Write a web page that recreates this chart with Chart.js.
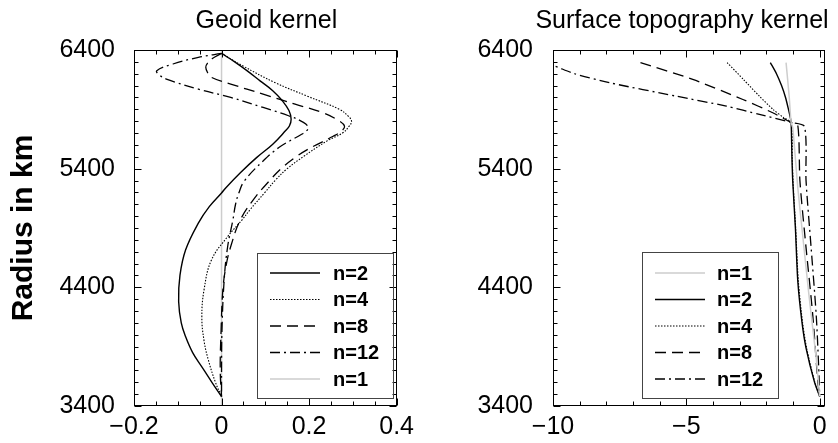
<!DOCTYPE html>
<html>
<head>
<meta charset="utf-8">
<script src="https://cdn.jsdelivr.net/npm/chart.js@4.4.1/dist/chart.umd.min.js"></script>
<style>
    html, body { margin: 0; padding: 0; background: #fff; }
    #wrap { position: relative; width: 838px; height: 443px; }
    #geoidChart { position: absolute; left: 0; top: 0; }
    #topoChart { position: absolute; left: 420px; top: 0; }
</style>
</head>
<body>
<div id="wrap">
    <canvas id="geoidChart" width="420" height="443"></canvas>
    <canvas id="topoChart" width="418" height="443"></canvas>
</div>
<script>
// radius ticks shared by both panels
const radiusTicks = [3400, 4400, 5400, 6400];
const geoidXTicks = [-0.2, 0, 0.2, 0.4];
const topoXTicks = [-10, -5, 0];

// Geoid kernel (left panel): radius in km, kernel value
const geoidR2 = [6371, 6300, 6226, 6140, 6057, 5972, 5890, 5817, 5760, 5719, 5606, 5493, 5366, 5240, 5195, 5080, 4941, 4716, 4500, 4280, 4100, 3983, 3850, 3730, 3600, 3480];
const geoidK2 = [0, 0.030, 0.058, 0.088, 0.117, 0.139, 0.154, 0.159, 0.155, 0.146, 0.117, 0.080, 0.043, 0.010, 0, -0.028, -0.053, -0.082, -0.095, -0.098, -0.092, -0.082, -0.066, -0.045, -0.022, 0];

const geoidR4 = [6371, 6265, 6124, 6011, 5899, 5840, 5800, 5760, 5702, 5631, 5504, 5400, 5307, 5195, 5054, 4969, 4828, 4631, 4378, 4150, 3950, 3786, 3600, 3480];
const geoidK4 = [0, 0.049, 0.123, 0.196, 0.270, 0.290, 0.297, 0.292, 0.277, 0.240, 0.188, 0.150, 0.124, 0.098, 0.065, 0.047, 0.014, -0.023, -0.040, -0.045, -0.040, -0.030, -0.014, 0];

const geoidR8 = [6371, 6330, 6290, 6254, 6210, 6169, 6113, 6028, 5944, 5870, 5800, 5758, 5720, 5673, 5561, 5491, 5400, 5296, 5150, 4969, 4744, 4575, 4378, 4040, 3700, 3480];
const geoidK8 = [0, -0.020, -0.032, -0.036, -0.032, -0.023, 0.021, 0.095, 0.168, 0.232, 0.270, 0.281, 0.275, 0.255, 0.196, 0.167, 0.136, 0.109, 0.075, 0.043, 0.021, 0.010, 0.003, -0.001, -0.003, 0];

const geoidR12 = [6371, 6338, 6282, 6226, 6190, 6155, 6070, 6000, 5916, 5846, 5790, 5747, 5710, 5690, 5578, 5465, 5296, 5200, 5100, 4969, 4744, 4462, 4040, 3700, 3480];
const geoidK12 = [0, -0.053, -0.111, -0.148, -0.142, -0.126, -0.053, 0.021, 0.095, 0.153, 0.187, 0.198, 0.192, 0.183, 0.131, 0.095, 0.052, 0.040, 0.032, 0.026, 0.014, 0.006, 0.001, 0, 0];

const geoidR1 = [6400, 3400];
const geoidK1 = [0, 0];

// Surface topography kernel (right panel)
const topoR1 = [6294, 6000, 5789, 5747, 5240, 4845, 4310, 3803, 3480];
const topoK1 = [-1.26, -1.14, -1.07, -1.01, -0.82, -0.64, -0.39, -0.13, 0];

const topoR2 = [6294, 6200, 6100, 6000, 5900, 5830, 5789, 5500, 5296, 4900, 4451, 4100, 3888, 3606, 3480];
const topoK2 = [-1.85, -1.62, -1.43, -1.28, -1.17, -1.10, -1.07, -1.04, -1.01, -0.91, -0.82, -0.66, -0.51, -0.20, 0];

const topoR4 = [6294, 6150, 6011, 5900, 5830, 5789, 5500, 5296, 4900, 4451, 4100, 3888, 3606, 3480];
const topoK4 = [-3.47, -2.85, -2.26, -1.75, -1.35, -1.07, -1.03, -1.00, -0.90, -0.80, -0.64, -0.49, -0.19, 0];

const topoR8 = [6294, 6152, 5983, 5871, 5789, 5765, 5296, 4733, 4169, 3606, 3480];
const topoK8 = [-6.72, -4.76, -2.88, -1.76, -1.07, -0.82, -0.74, -0.51, -0.26, -0.07, 0];

const topoR12 = [6294, 6271, 6200, 6124, 6011, 5927, 5857, 5789, 5755, 5296, 4733, 4169, 3746, 3480];
const topoK12 = [-10.4, -10, -9.2, -7.88, -5.38, -3.5, -2.26, -1.07, -0.57, -0.51, -0.32, -0.13, -0.04, 0];

const lineStyles = {
    n1: { borderColor: "#cdcdcd", borderWidth: 1.5, borderDash: [] },
    n2: { borderColor: "#000", borderWidth: 1.4, borderDash: [] },
    n4: { borderColor: "#000", borderWidth: 1.1, borderDash: [1.5, 1.5] },
    n8: { borderColor: "#000", borderWidth: 1.3, borderDash: [11, 6] },
    n12: { borderColor: "#000", borderWidth: 1.3, borderDash: [10, 4, 2, 4] }
};

Chart.defaults.font.family = '"Liberation Sans", Arial, sans-serif';
Chart.defaults.color = "#000";

function toPoints(rs, ks) {
    return rs.map((r, i) => ({ x: ks[i], y: r }));
}

function makeDataset(label, key, rs, ks, tension) {
    return Object.assign({
        label: label,
        data: toPoints(rs, ks),
        showLine: true,
        fill: false,
        pointRadius: 0,
        tension: tension
    }, lineStyles[key]);
}

function signed(v) {
    return v < 0 ? "\u2212" + Math.abs(v) : String(v);
}

// panel title, centred over the plot box (may overhang it)
const panelTitle = {
    id: "panelTitle",
    afterDraw(chart, args, opts) {
        const { ctx, chartArea: a } = chart;
        ctx.save();
        ctx.font = '25px "Liberation Sans", Arial, sans-serif';
        ctx.fillStyle = "#000";
        ctx.textAlign = "center";
        ctx.textBaseline = "alphabetic";
        ctx.fillText(opts.text, (a.left + a.right) / 2 + opts.shift, opts.baseline);
        ctx.restore();
    }
};

// box with inward ticks on all four sides
const framePlugin = {
    id: "frame",
    afterDatasetsDraw(chart, args, opts) {
        const { ctx, chartArea: a, scales: { x, y } } = chart;
        ctx.save();
        ctx.strokeStyle = "#000";
        ctx.lineWidth = 1;
        ctx.setLineDash([]);
        const L = Math.round(a.left) + 0.5, R = Math.round(a.right) - 0.5;
        const T = Math.round(a.top) + 0.5, B = Math.round(a.bottom) - 0.5;
        ctx.strokeRect(L, T, R - L, B - T);
        ctx.beginPath();
        const nx = Math.round((x.max - x.min) / opts.xMinor);
        for (let i = 0; i <= nx; i++) {
            const v = x.min + i * opts.xMinor;
            const major = Math.abs(v / opts.xMajor - Math.round(v / opts.xMajor)) < 1e-6;
            const len = major ? 7 : 4;
            const px = Math.round(x.getPixelForValue(v)) + 0.5;
            ctx.moveTo(px, B); ctx.lineTo(px, B - len);
            ctx.moveTo(px, T); ctx.lineTo(px, T + len);
        }
        const ny = Math.round((y.max - y.min) / opts.yMinor);
        for (let i = 0; i <= ny; i++) {
            const v = y.min + i * opts.yMinor;
            const major = (v - y.min) % opts.yMajor === 0;
            const len = major ? 7 : 4;
            const py = Math.round(y.getPixelForValue(v)) + 0.5;
            ctx.moveTo(L, py); ctx.lineTo(L + len, py);
            ctx.moveTo(R, py); ctx.lineTo(R - len, py);
        }
        ctx.stroke();
        ctx.restore();
    }
};

// legend drawn as a framed box inside the plot
const boxLegend = {
    id: "boxLegend",
    afterDraw(chart, args, opts) {
        const { ctx } = chart;
        ctx.save();
        ctx.strokeStyle = "#444";
        ctx.lineWidth = 1;
        ctx.setLineDash([]);
        ctx.strokeRect(opts.x + 0.5, opts.y + 0.5, opts.width, opts.height);
        ctx.font = 'bold 20px "Liberation Sans", Arial, sans-serif';
        ctx.textBaseline = "middle";
        ctx.textAlign = "left";
        chart.data.datasets.forEach((ds, i) => {
            const rowY = opts.y + opts.firstRow + i * opts.rowGap;
            ctx.strokeStyle = ds.borderColor;
            ctx.lineWidth = ds.borderWidth;
            ctx.setLineDash(ds.borderDash);
            ctx.beginPath();
            ctx.moveTo(opts.x + opts.lineStart, rowY);
            ctx.lineTo(opts.x + opts.lineStart + opts.lineLength, rowY);
            ctx.stroke();
            ctx.fillStyle = "#000";
            ctx.fillText(ds.label, opts.x + opts.textStart, rowY + 1);
        });
        ctx.restore();
    }
};

function makeOptions(cfg) {
    return {
        responsive: false,
        animation: false,
        layout: { padding: { left: 0, right: cfg.padRight, top: 50, bottom: 0 }, autoPadding: false },
        plugins: {
            legend: { display: false },
            tooltip: { enabled: false },
            title: { display: false },
            panelTitle: cfg.title,
            frame: cfg.frame,
            boxLegend: cfg.legend
        },
        scales: {
            x: {
                type: "linear",
                min: cfg.xMin,
                max: cfg.xMax,
                grid: { display: false, drawTicks: false },
                border: { display: false },
                afterBuildTicks: s => { s.ticks = cfg.xTicks.map(v => ({ value: v })); },
                afterFit: s => { s.height = 37; },
                ticks: {
                    font: { size: 25 },
                    color: "#000",
                    padding: 6,
                    maxRotation: 0,
                    autoSkip: false,
                    callback: v => signed(v)
                }
            },
            y: {
                type: "linear",
                min: 3400,
                max: 6400,
                grid: { display: false, drawTicks: false },
                border: { display: false },
                afterBuildTicks: s => { s.ticks = radiusTicks.map(v => ({ value: v })); },
                afterFit: s => { s.width = cfg.yWidth; },
                title: {
                    display: cfg.yTitle !== "",
                    text: cfg.yTitle,
                    font: { size: 30, weight: "bold" },
                    color: "#000",
                    padding: { top: 6, bottom: 0 }
                },
                ticks: {
                    font: { size: 25 },
                    color: "#000",
                    padding: cfg.yPad,
                    autoSkip: false,
                    callback: v => String(v)
                }
            }
        }
    };
}

new Chart(document.getElementById("geoidChart"), {
    type: "scatter",
    data: {
        datasets: [
            makeDataset("n=2", "n2", geoidR2, geoidK2, 0.4),
            makeDataset("n=4", "n4", geoidR4, geoidK4, 0.4),
            makeDataset("n=8", "n8", geoidR8, geoidK8, 0.4),
            makeDataset("n=12", "n12", geoidR12, geoidK12, 0.4),
            makeDataset("n=1", "n1", geoidR1, geoidK1, 0)
        ]
    },
    options: makeOptions({
        title: { text: "Geoid kernel", shift: 1, baseline: 28 },
        padRight: 14,
        xMin: -0.2,
        xMax: 0.4,
        xTicks: geoidXTicks,
        yWidth: 134,
        yPad: 19,
        yTitle: "Radius in km",
        frame: { xMinor: 0.05, xMajor: 0.2, yMinor: 100, yMajor: 1000 },
        legend: { x: 257, y: 253, width: 136, height: 145, firstRow: 20, rowGap: 26.5, lineStart: 13, lineLength: 50, textStart: 76 }
    }),
    plugins: [framePlugin, boxLegend, panelTitle]
});

new Chart(document.getElementById("topoChart"), {
    type: "scatter",
    data: {
        datasets: [
            makeDataset("n=1", "n1", topoR1, topoK1, 0.25),
            makeDataset("n=2", "n2", topoR2, topoK2, 0.25),
            makeDataset("n=4", "n4", topoR4, topoK4, 0.25),
            makeDataset("n=8", "n8", topoR8, topoK8, 0.25),
            makeDataset("n=12", "n12", topoR12, topoK12, 0.25)
        ]
    },
    options: makeOptions({
        title: { text: "Surface topography kernel", shift: -7, baseline: 28 },
        padRight: 13,
        xMin: -10,
        xMax: 0.2,
        xTicks: topoXTicks,
        yWidth: 133,
        yPad: 20,
        yTitle: "",
        frame: { xMinor: 1, xMajor: 5, yMinor: 100, yMajor: 1000 },
        legend: { x: 222, y: 252, width: 136, height: 146, firstRow: 21, rowGap: 26.5, lineStart: 13, lineLength: 50, textStart: 75 }
    }),
    plugins: [framePlugin, boxLegend, panelTitle]
});
</script>
</body>
</html>
